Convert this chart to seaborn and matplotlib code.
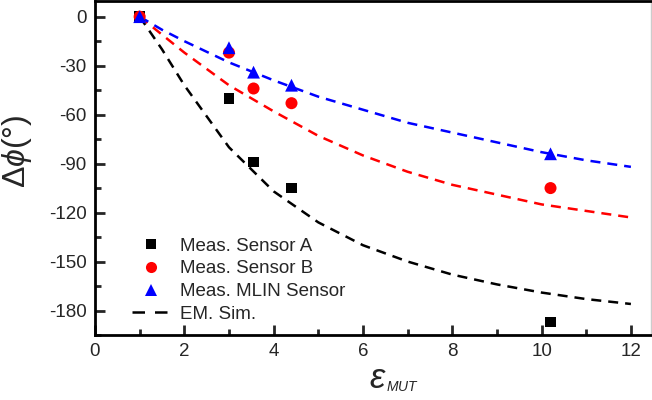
import matplotlib
matplotlib.use("Agg")
import matplotlib.pyplot as plt
import seaborn as sns
import pandas as pd
from matplotlib.ticker import MultipleLocator
from matplotlib.lines import Line2D

# Measured data
eps_meas = [1.0, 3.0, 3.55, 4.4, 10.2]
phase_A = [0, -50, -89, -105, -187]
phase_B = [0, -22, -44, -53, -105]
phase_MLIN = [0, -19, -34, -42, -84]

# EM simulation curves
eps_sim = [1, 1.5, 2, 3, 4, 5, 6, 7, 8, 9, 10, 11, 12]
sim_A = [0, -20, -42, -80, -107, -126, -140, -150, -158, -164, -169, -173, -176]
sim_B = [0, -11, -22, -42, -58, -73, -85, -95, -103, -109, -115, -119, -123]
sim_MLIN = [0, -8, -15, -28, -39, -49, -57, -65, -71, -77, -83, -88, -92]

labels = ["Meas. Sensor A", "Meas. Sensor B", "Meas. MLIN Sensor", "EM. Sim."]

sns.set_style("ticks")
plt.rcParams['font.family'] = ['Liberation Sans', 'DejaVu Sans']
plt.rcParams['axes.unicode_minus'] = False
plt.rcParams['mathtext.fontset'] = 'custom'
plt.rcParams['mathtext.it'] = 'Liberation Sans:italic'
plt.rcParams['mathtext.rm'] = 'Liberation Sans'

fig = plt.figure(figsize=(6.52, 4.0), dpi=100)
ax = fig.add_axes([95/652, 1 - 335/400, (651-95)/652, (335-1)/400])

dash = (4, 2.8)
lw = 1.8
df_sim = pd.DataFrame({"x": eps_sim * 3,
                       "y": sim_A + sim_B + sim_MLIN,
                       "s": ["A"] * len(eps_sim) + ["B"] * len(eps_sim) + ["M"] * len(eps_sim)})
for key, col in [("A", "black"), ("B", "#ff0000"), ("M", "#0000ff")]:
    d = df_sim[df_sim.s == key]
    sns.lineplot(data=d, x="x", y="y", ax=ax, color=col, lw=lw,
                 linestyle=(0, dash), legend=False, zorder=2)

sns.scatterplot(x=eps_meas, y=phase_A, ax=ax, marker='s', s=60, color='black',
                edgecolor='none', zorder=3)
sns.scatterplot(x=eps_meas, y=phase_B, ax=ax, marker='o', s=75, color='#ff0000',
                edgecolor='none', zorder=3)
sns.scatterplot(x=eps_meas, y=phase_MLIN, ax=ax, marker='^', s=85, color='#0000ff',
                edgecolor='none', zorder=4)

handles = [
    Line2D([], [], marker='s', color='black', ls='none', markersize=7, markeredgewidth=0),
    Line2D([], [], marker='o', color='#ff0000', ls='none', markersize=8, markeredgewidth=0),
    Line2D([], [], marker='^', color='#0000ff', ls='none', markersize=8, markeredgewidth=0),
    Line2D([], [], color='black', lw=lw, linestyle=(0, (5, 4))),
]
leg = ax.legend(handles, labels, loc='lower left', bbox_to_anchor=(0.045, 0.0),
                frameon=False, fontsize=13.5, handlelength=2.0, handletextpad=0.53,
                labelspacing=0.3, borderaxespad=0.25)

ax.set_xlim(0, 12.45)
ax.set_ylim(-195, 9.6)
ax.xaxis.set_major_locator(MultipleLocator(2))
ax.xaxis.set_minor_locator(MultipleLocator(1))
ax.yaxis.set_major_locator(MultipleLocator(30))
ax.yaxis.set_minor_locator(MultipleLocator(15))
ax.set_yticks([0, -30, -60, -90, -120, -150, -180])
ax.tick_params(which='major', direction='in', length=7, width=2, labelsize=13.5, pad=6)
ax.tick_params(which='minor', direction='in', length=4, width=2)
ax.tick_params(axis='y', which='both', right=False)
ax.tick_params(axis='x', which='both', top=False)

for s in ['left', 'bottom', 'top']:
    ax.spines[s].set_linewidth(2)
    ax.spines[s].set_color('black')
ax.spines['right'].set_linewidth(1)
ax.spines['right'].set_color('#cccccc')

xl = ax.set_xlabel(r'$\varepsilon$', fontsize=25)
ax.xaxis.set_label_coords((378 - 95) / 556, -(388 - 335) / 334)
xl.set_va('baseline')
ax.annotate(r'$MUT$', xy=(0.95, 0.02), xycoords=xl, fontsize=10,
            ha='left', va='bottom')
ax.set_ylabel(r'$\Delta\phi$(°)', fontsize=23)
ax.yaxis.set_label_coords((34 - 95) / 556, (335 - 151) / 334)

fig.savefig("out.png", dpi=100)
